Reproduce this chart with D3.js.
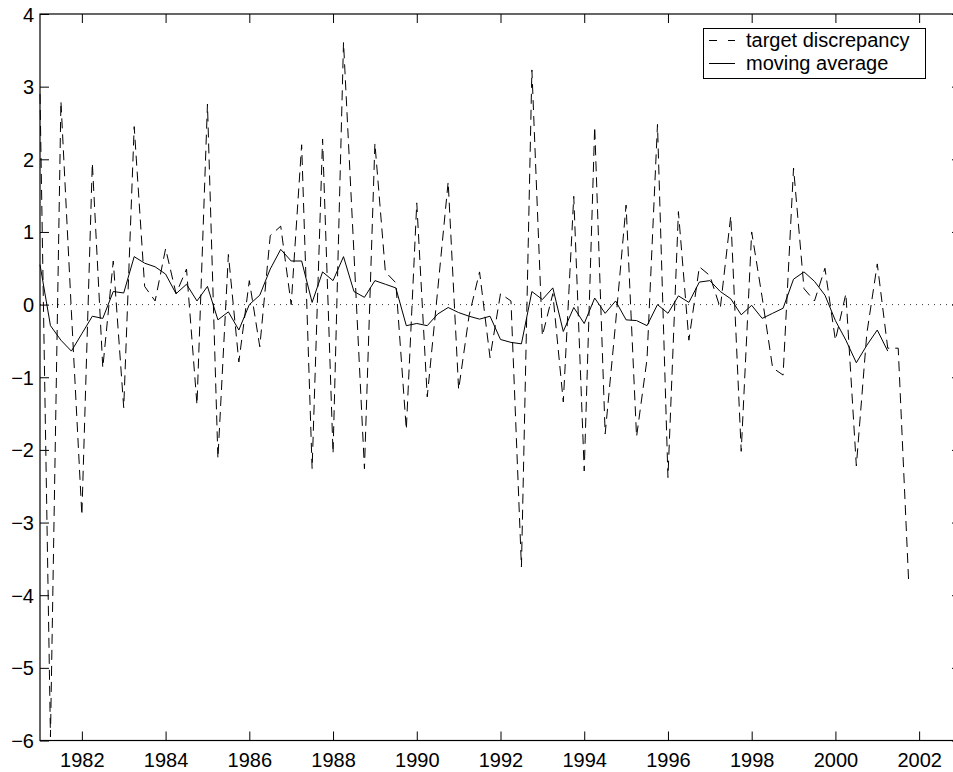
<!DOCTYPE html>
<html>
<head>
<meta charset="utf-8">
<script src="https://cdn.jsdelivr.net/npm/d3@7"></script>
<style>
  body { margin: 0; background: #fff; }
  svg { display: block; }
  text { font-family: "Liberation Sans", Arial, Helvetica, sans-serif; fill: #000; }
</style>
</head>
<body>
<div id="chart"></div>
<script>
// quarterly data, first point 1981 Q1
const startYear = 1981;
const targetDiscrepancy = [
  2.9, -5.95, 2.8, -0.1, -2.9, 1.95, -0.87, 0.6, -1.42, 2.45,
  0.25, 0.05, 0.77, 0.15, 0.49, -1.38, 2.76, -2.12, 0.69, -0.79,
  0.33, -0.58, 0.95, 1.08, 0.0, 2.2, -2.26, 2.28, -2.05, 3.61,
  0.7, -2.26, 2.22, 0.45, 0.3, -1.72, 1.4, -1.27, 0.2, 1.69,
  -1.17, -0.15, 0.45, -0.73, 0.15, 0.05, -3.61, 3.23, -0.43, 0.15,
  -1.34, 1.49, -2.29, 2.45, -1.78, -0.25, 1.37, -1.82, -0.75, 2.48,
  -2.38, 1.28, -0.49, 0.52, 0.4, -0.05, 1.22, -2.02, 1.0, 0.1,
  -0.87, -0.97, 1.88, 0.22, 0.05, 0.5, -0.49, 0.15, -2.22, -0.4,
  0.56, -0.6, -0.6, -3.82
];
const movingAverage = [
  0.55, -0.29, -0.49, -0.64, -0.4, -0.16, -0.19, 0.18, 0.16, 0.66,
  0.57, 0.52, 0.42, 0.15, 0.28, 0.05, 0.25, -0.21, -0.1, -0.35,
  0.0, 0.13, 0.49, 0.76, 0.6, 0.6, 0.03, 0.45, 0.33, 0.66,
  0.18, 0.1, 0.33, 0.28, 0.23, -0.29, -0.26, -0.29, -0.13, -0.04,
  -0.11, -0.16, -0.2, -0.16, -0.48, -0.52, -0.54, 0.18, 0.07, 0.23,
  -0.37, -0.04, -0.26, 0.09, -0.12, 0.05, -0.21, -0.22, -0.29, 0.0,
  -0.12, 0.12, 0.03, 0.31, 0.33, 0.18, 0.08, -0.14, -0.01, -0.19,
  -0.12, -0.05, 0.35, 0.45, 0.32, 0.13, -0.22, -0.49, -0.8, -0.56,
  -0.35, -0.64
];
const xTicks = [1982, 1984, 1986, 1988, 1990, 1992, 1994, 1996, 1998, 2000, 2002];
const yTicks = [-6, -5, -4, -3, -2, -1, 0, 1, 2, 3, 4];
const legendLabels = ['target discrepancy', 'moving average'];

const width = 953, height = 772;
const plotLeft = 40, plotRight = 961, plotTop = 14, plotBottom = 740.5;
const tickLen = 9;
const fontSize = 20;

const svg = d3.select('#chart').append('svg')
  .attr('width', width)
  .attr('height', height);

const x = d3.scaleLinear().domain([1981, 2003]).range([plotLeft, plotRight]);
const y = d3.scaleLinear().domain([-6, 4]).range([plotBottom, plotTop]);

const quarter = i => startYear + i / 4;

// zero reference line
svg.append('line')
  .attr('x1', x(1981)).attr('x2', x(2003))
  .attr('y1', y(0)).attr('y2', y(0))
  .attr('stroke', '#000')
  .attr('stroke-width', 0.8)
  .attr('stroke-dasharray', '1,5');

const line = d3.line()
  .x((d, i) => x(quarter(i)))
  .y(d => y(d));

svg.append('path')
  .datum(targetDiscrepancy)
  .attr('d', line)
  .attr('fill', 'none')
  .attr('stroke', '#000')
  .attr('stroke-width', 1)
  .attr('stroke-dasharray', '10,6');

svg.append('path')
  .datum(movingAverage)
  .attr('d', line)
  .attr('fill', 'none')
  .attr('stroke', '#000')
  .attr('stroke-width', 1);

// axes: ticks pointing inward on all four sides
const xAxisBottom = d3.axisBottom(x).tickValues(xTicks).tickSizeInner(-tickLen).tickSizeOuter(0).tickFormat(d3.format('d'));
const xAxisTop = d3.axisTop(x).tickValues(xTicks).tickSizeInner(-tickLen).tickSizeOuter(0).tickFormat('');
const yAxisLeft = d3.axisLeft(y).tickValues(yTicks).tickSizeInner(-tickLen).tickSizeOuter(0)
  .tickFormat(d => d < 0 ? '\u2212' + Math.abs(d) : d);
const yAxisRight = d3.axisRight(y).tickValues(yTicks).tickSizeInner(-tickLen).tickSizeOuter(0).tickFormat('');

function styleAxis(g) {
  g.select('.domain').remove();
  g.selectAll('.tick line').attr('stroke', '#000').attr('stroke-width', 1);
  g.selectAll('.tick text')
    .style('font-size', fontSize + 'px')
    .style('font-family', '"Liberation Sans", Arial, sans-serif')
    .attr('fill', '#000');
}

svg.append('g').attr('transform', `translate(0,${plotBottom})`).call(xAxisBottom).call(styleAxis)
  .selectAll('.tick text').attr('dy', null).attr('y', 26.5);
svg.append('g').attr('transform', `translate(0,${plotTop})`).call(xAxisTop).call(styleAxis);
svg.append('g').attr('transform', `translate(${plotLeft},0)`).call(yAxisLeft).call(styleAxis)
  .selectAll('.tick text').attr('x', -6).attr('dy', '0.35em');
svg.append('g').attr('transform', `translate(${plotRight},0)`).call(yAxisRight).call(styleAxis);

// axes box
svg.append('rect')
  .attr('x', plotLeft).attr('y', plotTop)
  .attr('width', plotRight - plotLeft).attr('height', plotBottom - plotTop)
  .attr('fill', 'none')
  .attr('stroke', '#000')
  .attr('stroke-width', 1.2);

// legend
const legend = svg.append('g');
legend.append('rect')
  .attr('x', 703.5).attr('y', 28.5)
  .attr('width', 222).attr('height', 50)
  .attr('fill', '#fff')
  .attr('stroke', '#000')
  .attr('stroke-width', 1);

legendLabels.forEach((label, i) => {
  const cy = 40.5 + i * 23;
  legend.append('line')
    .attr('x1', 709).attr('x2', 735)
    .attr('y1', cy).attr('y2', cy)
    .attr('stroke', '#000')
    .attr('stroke-width', 1)
    .attr('stroke-dasharray', i === 0 ? '8,11' : null);
  legend.append('text')
    .attr('x', 746)
    .attr('y', cy + 6.5)
    .style('font-size', fontSize + 'px')
    .text(label);
});
</script>
</body>
</html>
